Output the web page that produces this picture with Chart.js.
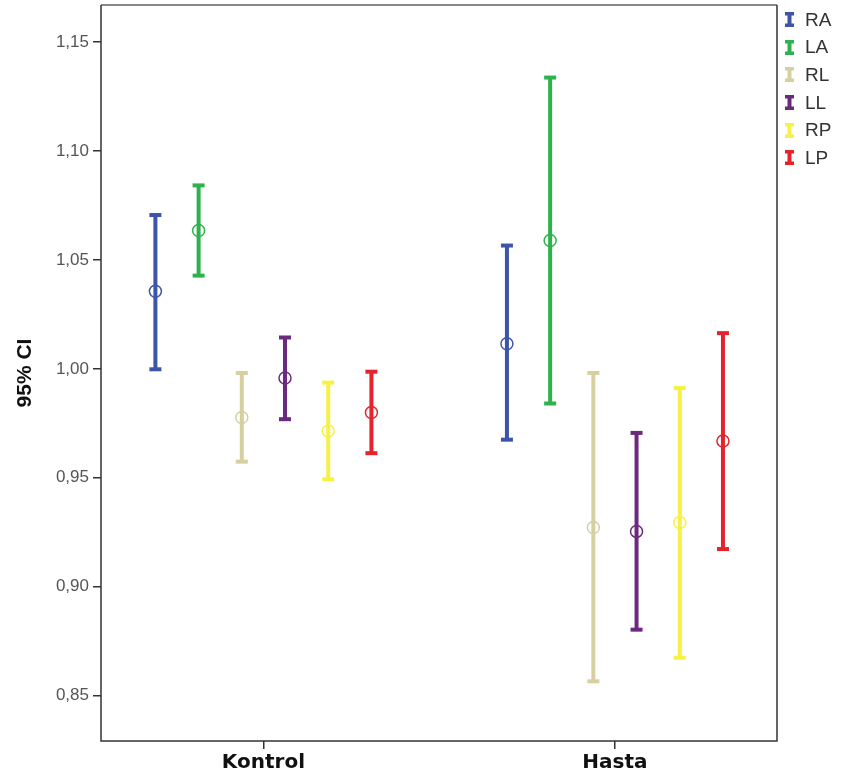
<!DOCTYPE html>
<html>
<head>
<meta charset="utf-8">
<script src="https://cdn.jsdelivr.net/npm/chart.js@4.4.0/dist/chart.umd.min.js"></script>
<style>
  body { margin: 0; background: #fff; }
  #wrap { position: relative; width: 841px; height: 780px; }
  #legend { position: absolute; left: 785px; top: 6px; font-family: 'Liberation Sans', Arial, sans-serif; font-size: 19px; color: #333; }
  .item { display: flex; align-items: center; height: 27.6px; }
  .item svg { margin-right: 11px; }
</style>
</head>
<body>
<div id="wrap">
  <canvas id="c" width="841" height="780"></canvas>
  <div id="legend"></div>
</div>
<script>
const groups = ['Kontrol', 'Hasta'];
const series = ['RA', 'LA', 'RL', 'LL', 'RP', 'LP'];
const colors = ['#3d55a8', '#2eb24b', '#d6d0a0', '#6c2a7e', '#f6f145', '#e6232b'];

const kontrolMean = [1.0356, 1.0635, 0.9777, 0.9958, 0.9715, 0.9800];
const kontrolLow  = [0.9998, 1.0428, 0.9574, 0.9769, 0.9493, 0.9613];
const kontrolHigh = [1.0706, 1.0842, 0.9981, 1.0144, 0.9937, 0.9987];
const hastaMean   = [1.0115, 1.0589, 0.9272, 0.9254, 0.9295, 0.9669];
const hastaLow    = [0.9675, 0.9841, 0.8566, 0.8803, 0.8674, 0.9173];
const hastaHigh   = [1.0566, 1.1337, 0.9981, 0.9706, 0.9912, 1.0164];

const yTicks = [0.85, 0.90, 0.95, 1.00, 1.05, 1.10, 1.15];

const SPREAD = 0.1229;
function xPos(g, i) { return g + 1 + (i - 2.5) * SPREAD; }

const datasets = [];
series.forEach((s, i) => {
    const xk = xPos(0, i), xh = xPos(1, i);
    datasets.push({
        type: 'line', label: s, showLine: true, spanGaps: false,
        data: [{x: xk, y: kontrolLow[i]}, {x: xk, y: kontrolHigh[i]}, {x: xk, y: null},
               {x: xh, y: hastaLow[i]}, {x: xh, y: hastaHigh[i]}],
        borderColor: colors[i], borderWidth: 4, borderCapStyle: 'butt',
        pointStyle: 'line', pointRadius: 6, pointBorderWidth: 4, pointBorderColor: colors[i]
    });
});
series.forEach((s, i) => {
    datasets.push({
        type: 'line', label: s + ' mean', showLine: false,
        data: [{x: xPos(0, i), y: kontrolMean[i]}, {x: xPos(1, i), y: hastaMean[i]}],
        pointStyle: 'circle', pointRadius: 6, pointBorderWidth: 1.5,
        pointBorderColor: colors[i], pointBackgroundColor: 'rgba(0,0,0,0)'
    });
});

// plot frame: lighter top edge, dark left/right/bottom
const frame = {
    id: 'frame',
    afterDraw(chart) {
        const a = chart.chartArea, ctx = chart.ctx;
        ctx.save();
        ctx.lineWidth = 2;
        ctx.strokeStyle = '#888';
        ctx.beginPath(); ctx.moveTo(a.left, a.top); ctx.lineTo(a.right, a.top); ctx.stroke();
        ctx.strokeStyle = '#333';
        ctx.lineWidth = 1.5;
        ctx.beginPath();
        ctx.moveTo(a.left, a.top); ctx.lineTo(a.left, a.bottom);
        ctx.lineTo(a.right, a.bottom); ctx.lineTo(a.right, a.top);
        ctx.stroke();
        ctx.restore();
    }
};

new Chart(document.getElementById('c'), {
    type: 'scatter',
    data: { datasets },
    plugins: [frame],
    options: {
        responsive: false, animation: false, events: [],
        layout: { autoPadding: false, padding: { top: 5, right: 64, left: 0, bottom: 0 } },
        plugins: { legend: { display: false }, tooltip: { enabled: false } },
        scales: {
            x: {
                type: 'linear', min: 0.538, max: 2.461,
                afterBuildTicks: s => { s.ticks = groups.map((g, i) => ({ value: i + 1 })); },
                afterFit: s => { s.height = 39; s.paddingLeft = 0; s.paddingRight = 0; },
                ticks: { callback: v => groups[Math.round(v) - 1], color: '#111', padding: 2,
                         font: { family: "'DejaVu Sans', Verdana, sans-serif", size: 20, weight: 'bold' } },
                grid: { drawOnChartArea: false, tickLength: 8, color: '#333', lineWidth: 1.5 },
                border: { display: false }
            },
            y: {
                min: 0.8292, max: 1.167,
                afterBuildTicks: s => { s.ticks = yTicks.map(v => ({ value: v })); },
                afterFit: s => { s.width = 101; s.paddingTop = 0; s.paddingBottom = 0; },
                ticks: { callback: v => v.toFixed(2).replace('.', ','), color: '#555', padding: 4,
                         font: { family: "'Liberation Sans', Arial, sans-serif", size: 17 } },
                grid: { drawOnChartArea: false, tickLength: 8, color: '#333', lineWidth: 1.5 },
                border: { display: false },
                title: { display: true, text: '95% CI', color: '#111', padding: { top: 13, bottom: 0 },
                         font: { family: "'Liberation Sans', Arial, sans-serif", size: 21, weight: 'bold' } }
            }
        }
    }
});

const legend = document.getElementById('legend');
legend.innerHTML = series.map((s, i) =>
    `<div class="item"><svg width="9" height="15" viewBox="0 0 9 15">
       <rect x="0" y="0" width="9" height="3.5" fill="${colors[i]}"/>
       <rect x="2.5" y="0" width="4" height="15" fill="${colors[i]}"/>
       <rect x="0" y="11.5" width="9" height="3.5" fill="${colors[i]}"/>
     </svg><span>${s}</span></div>`).join('');
</script>
</body>
</html>
